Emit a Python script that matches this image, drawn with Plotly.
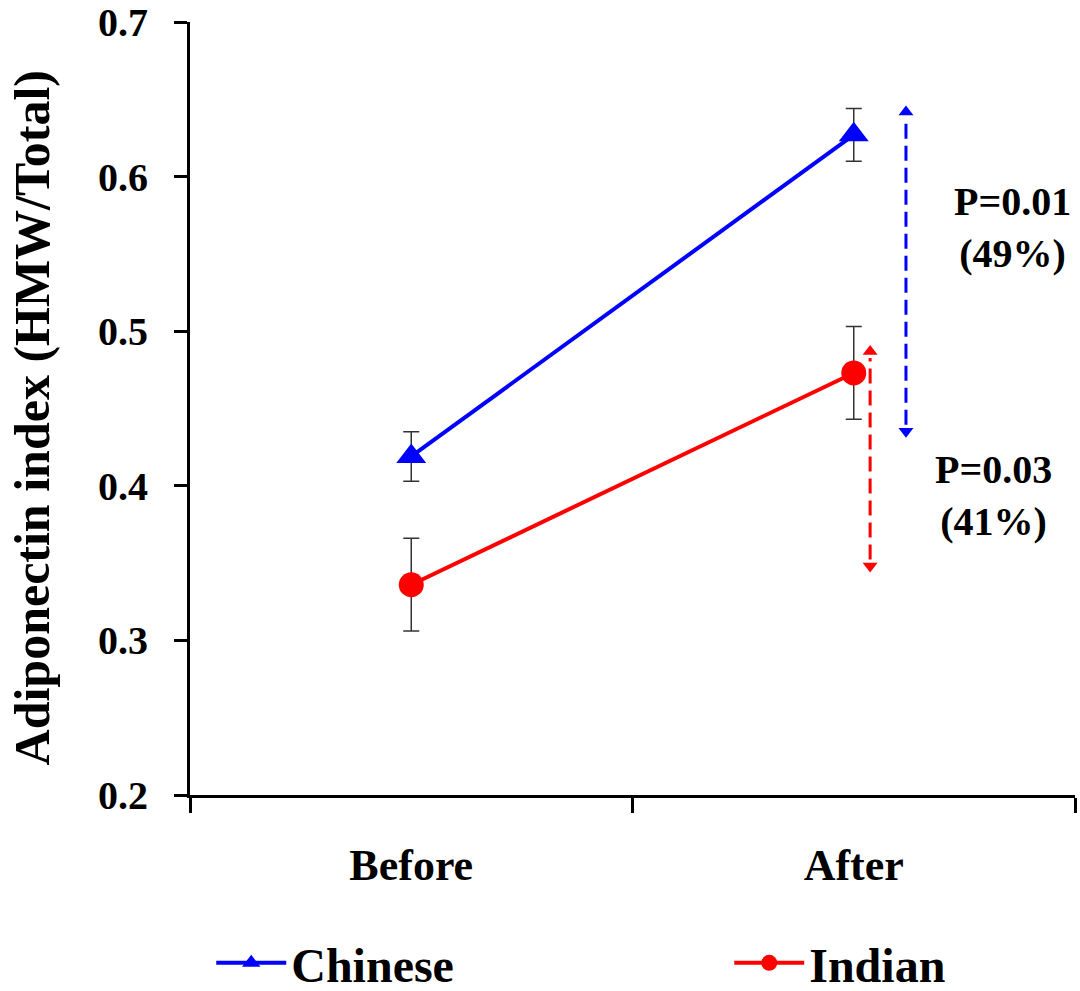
import plotly.graph_objects as go

# Adiponectin index before/after, by ethnic group
groups = ["Before", "After"]
chinese_mean = [0.419, 0.627]
chinese_err = [0.016, 0.017]
indian_mean = [0.336, 0.473]
indian_err = [0.030, 0.030]

# Change brackets (low, high) and their labels
chinese_span = [0.431, 0.646]
indian_span = [0.344, 0.491]
chinese_label = "P=0.01<br>(49%)"
indian_label = "P=0.03<br>(41%)"

y_ticks = [0.2, 0.3, 0.4, 0.5, 0.6, 0.7]
y_title = "Adiponectin index (HMW/Total)"

FONT = "Liberation Serif"
BLUE = "#0000FF"
RED = "#FF0000"

fig = go.Figure()

fig.add_trace(go.Scatter(
    x=groups, y=chinese_mean, name="Chinese", mode="lines+markers",
    line=dict(color=BLUE, width=4),
    marker=dict(symbol="triangle-up", size=26, color=BLUE),
    error_y=dict(type="data", array=chinese_err, color="#333333", thickness=1.5, width=8),
    legendwidth=433,
))
fig.add_trace(go.Scatter(
    x=groups, y=indian_mean, name="Indian", mode="lines+markers",
    line=dict(color=RED, width=4),
    marker=dict(symbol="circle", size=25, color=RED),
    error_y=dict(type="data", array=indian_err, color="#333333", thickness=1.5, width=8),
    legendwidth=150,
))

# Double-headed dashed arrows next to the "After" points (heads drawn on a
# linear overlay axis sharing the category positions)
PX_PER_UNIT = 1546.0
head = 13
off = (head / 2) / PX_PER_UNIT
for xpos, span, col in [(1.118, chinese_span, BLUE), (1.037, indian_span, RED)]:
    lo, hi = span
    fig.add_shape(type="line", xref="x", yref="y", x0=xpos, x1=xpos,
                  y0=lo + 2 * off, y1=hi - 2 * off,
                  line=dict(color=col, width=3, dash="15px,7px"))
    fig.add_trace(go.Scatter(
        x=[xpos, xpos], y=[hi - off, lo + off], mode="markers", showlegend=False,
        hoverinfo="skip", xaxis="x2",
        marker=dict(symbol=["triangle-up", "triangle-down"], size=head, color=col),
    ))

label_font = dict(family=FONT, size=40, color="black", weight="bold")
fig.add_annotation(x=0.929, xref="paper", y=0.567, yref="y", text=chinese_label,
                   showarrow=False, align="center", xanchor="center", yanchor="middle",
                   font=label_font)
fig.add_annotation(x=0.908, xref="paper", y=0.394, yref="y", text=indian_label,
                   showarrow=False, align="center", xanchor="center", yanchor="middle",
                   font=label_font)

# Y-axis title
fig.add_annotation(x=-0.178, xref="paper", y=0.4877, yref="paper", text=y_title,
                   textangle=-90, showarrow=False, xanchor="center", yanchor="middle",
                   font=dict(family=FONT, size=50, color="black", weight="bold"))

fig.update_layout(
    width=1080, height=991,
    margin=dict(l=190, r=5, t=22, b=196, autoexpand=False),
    plot_bgcolor="white", paper_bgcolor="white",
    font=dict(family=FONT, color="black"),
    legend=dict(orientation="h", x=0.024, xanchor="left", y=-0.2175, yanchor="middle",
                font=dict(family=FONT, size=48, color="black", weight="bold"),
                itemwidth=70, itemsizing="trace"),
    xaxis=dict(
        type="category", range=[-0.5, 1.5], tickson="boundaries",
        showline=True, linecolor="black", linewidth=3,
        ticks="outside", ticklen=15, tickwidth=3, tickcolor="black",
        tickfont=dict(family=FONT, size=44, color="black", weight="bold"),
        ticklabelstandoff=29, showgrid=False, zeroline=False,
    ),
    xaxis2=dict(overlaying="x", range=[-0.5, 1.5], visible=False),
    yaxis=dict(
        range=[0.2, 0.7], tickvals=y_ticks, ticktext=[f"{v:.1f}" for v in y_ticks],
        showline=True, linecolor="black", linewidth=3,
        ticks="outside", ticklen=13, tickwidth=3, tickcolor="black",
        tickfont=dict(family=FONT, size=40, color="black", weight="bold"),
        ticklabelstandoff=18, showgrid=False, zeroline=False,
    ),
)

fig.write_html("out.html")
